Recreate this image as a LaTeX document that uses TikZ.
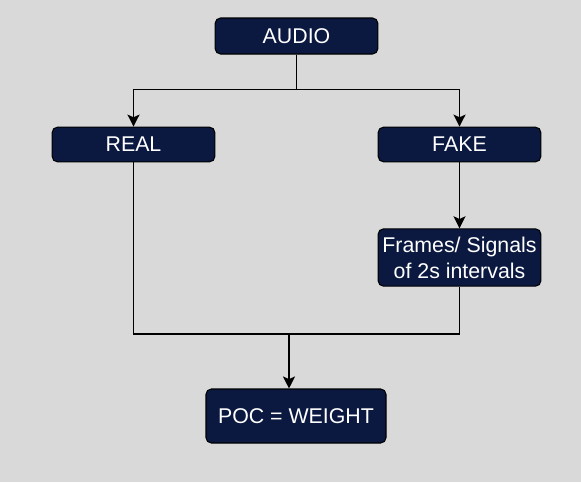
\documentclass[tikz,border=0pt]{standalone}
\usepackage{fontspec}
\setmainfont{Liberation Sans}
\usetikzlibrary{arrows.meta}

\definecolor{navy}{HTML}{0B1941}
\definecolor{bggray}{HTML}{D9D9D9}

\tikzset{
  stagebox/.style={draw=black, line width=0.8pt, rounded corners=4pt, fill=navy,
    text=white, font=\fontsize{16}{19.5}\selectfont, align=center, inner sep=0pt},
  link/.style={line width=1.3pt, draw=black},
  flow/.style={link, -{Stealth[length=9pt, width=9pt, inset=2pt]}}
}

\begin{document}
\begin{tikzpicture}[x=0.75pt, y=-0.75pt]
% ---------------- Canvas ----------------
\fill[bggray] (0,0) rectangle (581,482);
\useasboundingbox (0,0) rectangle (581,482);

% ---------------- Boxes ----------------
\node[stagebox, minimum width=122pt, minimum height=27pt] (audio) at (296.5, 36) {AUDIO};
\node[stagebox, minimum width=122pt, minimum height=26pt] (real) at (133.5, 144.5) {REAL};
\node[stagebox, minimum width=122pt, minimum height=26pt] (fake) at (459.5, 144.5) {FAKE};
\node[stagebox, minimum width=122pt, minimum height=43pt] (frames) at (459.5, 257.5)
    {Frames/ Signals\\of 2s intervals};
\node[stagebox, minimum width=135pt, minimum height=40.5pt] (poc) at (296, 416) {POC = WEIGHT};

% ---------------- Connectors ----------------
\draw[flow] (audio.south) -- ++(0,35) -| (real.north);
\draw[flow] (audio.south) -- ++(0,35) -| (fake.north);
\draw[flow] (fake.south) -- (frames.north);

\coordinate (merge) at (289, 334);
\draw[link] (real.south) |- (frames.south |- merge) -- (frames.south);
\draw[flow] (merge) -- (poc.north -| merge);
\end{tikzpicture}
\end{document}
